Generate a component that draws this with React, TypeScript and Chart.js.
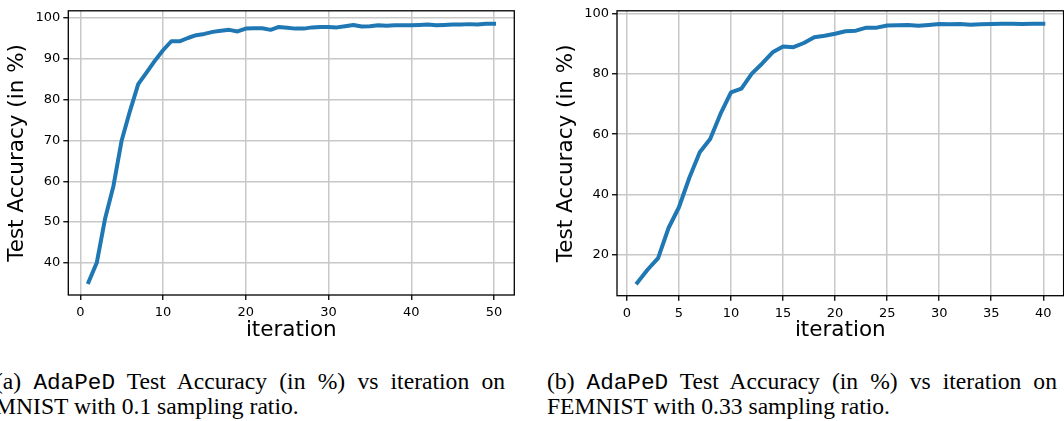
import React, { useEffect, useRef } from "react";
import { Chart, registerables } from "chart.js";

Chart.register(...registerables);

// ---- data (a) MNIST ----
const iterA = [
  1, 2, 3, 4, 5, 6, 7, 8, 9, 10, 11, 12, 13, 14, 15, 16, 17, 18, 19, 20, 21, 22, 23, 24, 25,
  26, 27, 28, 29, 30, 31, 32, 33, 34, 35, 36, 37, 38, 39, 40, 41, 42, 43, 44, 45, 46, 47, 48, 49, 50,
];
const accA = [
  35.3, 40.1, 50.9, 58.8, 70.0, 77.2, 83.8, 86.6, 89.5, 92.1,
  94.3, 94.3, 95.1, 95.8, 96.1, 96.6, 96.9, 97.1, 96.7, 97.4,
  97.5, 97.5, 97.1, 97.8, 97.6, 97.4, 97.4, 97.7, 97.8, 97.8,
  97.7, 98.0, 98.3, 97.9, 98.0, 98.2, 98.1, 98.2, 98.2, 98.2,
  98.3, 98.4, 98.2, 98.3, 98.4, 98.4, 98.5, 98.4, 98.6, 98.6,
];
const xTicksA = [0, 10, 20, 30, 40, 50];
const yTicksA = [40, 50, 60, 70, 80, 90, 100];

// ---- data (b) FEMNIST ----
const iterB = [
  1, 2, 3, 4, 5, 6, 7, 8, 9, 10, 11, 12, 13, 14, 15, 16, 17, 18, 19, 20,
  21, 22, 23, 24, 25, 26, 27, 28, 29, 30, 31, 32, 33, 34, 35, 36, 37, 38, 39, 40,
];
const accB = [
  10.6, 15.0, 18.8, 28.8, 35.7, 45.5, 54.0, 58.4, 66.8, 73.9,
  75.1, 80.1, 83.5, 87.2, 89.1, 88.9, 90.3, 92.2, 92.7, 93.4,
  94.2, 94.4, 95.4, 95.4, 96.1, 96.2, 96.3, 96.0, 96.3, 96.6,
  96.5, 96.6, 96.4, 96.5, 96.6, 96.7, 96.7, 96.6, 96.7, 96.7,
];
const xTicksB = [0, 5, 10, 15, 20, 25, 30, 35, 40];
const yTicksB = [20, 40, 60, 80, 100];

const xTitle = "iteration";
const yTitle = "Test Accuracy (in %)";
const captionA1 = ["(a) ", "AdaPeD", " Test Accuracy (in %) vs iteration on"];
const captionA2 = "MNIST with 0.1 sampling ratio.";
const captionB1 = ["(b) ", "AdaPeD", " Test Accuracy (in %) vs iteration on"];
const captionB2 = "FEMNIST with 0.33 sampling ratio.";

const framePlugin = {
  id: "frame",
  afterDraw(chart: any) {
    const { ctx, chartArea } = chart;
    const { left, top, right, bottom } = chartArea;
    ctx.save();
    ctx.strokeStyle = "#000";
    ctx.lineWidth = 1.3;
    ctx.strokeRect(left, top, right - left, bottom - top);
    ctx.restore();
  },
};

function pad(vals: number[]) {
  const mn = Math.min(...vals);
  const mx = Math.max(...vals);
  const m = (mx - mn) * 0.05;
  return [mn - m, mx + m];
}

type Props = {
  xs: number[];
  ys: number[];
  xTicks: number[];
  yTicks: number[];
  left: number;
  width: number;
  height: number;
  padding: { left: number; top: number; right: number; bottom: number };
  yWidth: number;
  xHeight: number;
  yTitlePad: number;
};

function LineChart(p: Props) {
  const ref = useRef<HTMLCanvasElement | null>(null);
  useEffect(() => {
    if (!ref.current) return;
    const [xMin, xMax] = pad(p.xs);
    const [yMin, yMax] = pad(p.ys);
    const tickFont = { family: "DejaVu Sans", size: 13 };
    const titleFont = { family: "DejaVu Sans", size: 21.5 };
    const grid = {
      color: "#c8c8c8",
      lineWidth: 1.5,
      tickColor: "#000",
      tickWidth: 1.3,
      tickLength: 5,
      drawTicks: true,
    };
    const chart = new Chart(ref.current, {
      type: "line",
      data: {
        datasets: [
          {
            data: p.xs.map((x, i) => ({ x, y: p.ys[i] })),
            borderColor: "#1f77b4",
            borderWidth: 4,
            pointRadius: 0,
            tension: 0,
            borderJoinStyle: "round",
            borderCapStyle: "square",
            fill: false,
          },
        ],
      },
      options: {
        animation: false,
        responsive: false,
        devicePixelRatio: 1,
        layout: { padding: p.padding },
        plugins: { legend: { display: false }, tooltip: { enabled: false } },
        scales: {
          x: {
            type: "linear",
            min: xMin,
            max: xMax,
            grid,
            border: { display: false },
            afterBuildTicks: (s: any) => {
              s.ticks = p.xTicks.map((v) => ({ value: v }));
            },
            afterFit: (s: any) => {
              s.height = p.xHeight;
            },
            ticks: { color: "#000", font: tickFont, padding: 5, maxRotation: 0, autoSkip: false },
            title: {
              display: true,
              text: xTitle,
              color: "#000",
              font: titleFont,
              padding: { top: 0, bottom: 1.5 },
            },
          },
          y: {
            type: "linear",
            min: yMin,
            max: yMax,
            grid,
            border: { display: false },
            afterBuildTicks: (s: any) => {
              s.ticks = p.yTicks.map((v) => ({ value: v }));
            },
            afterFit: (s: any) => {
              s.width = p.yWidth;
            },
            ticks: { color: "#000", font: tickFont, padding: 3, autoSkip: false },
            title: {
              display: true,
              text: yTitle,
              color: "#000",
              font: titleFont,
              padding: { top: p.yTitlePad, bottom: 0 },
            },
          },
        },
      },
      plugins: [framePlugin],
    } as any);
    return () => chart.destroy();
  }, []);
  return (
    <canvas
      ref={ref}
      width={p.width}
      height={p.height}
      style={{ position: "absolute", left: p.left, top: 0, width: p.width, height: p.height }}
    />
  );
}

const SX = 1.04;
const LINE_W = 510;

function Caption({ left, line1, line2 }: { left: number; line1: string[]; line2: string }) {
  const common: React.CSSProperties = {
    position: "absolute",
    left,
    fontFamily: "'Liberation Serif', 'Times New Roman', serif",
    fontSize: 22.7,
    lineHeight: "25px",
    color: "#000",
    transform: `scaleX(${SX})`,
    transformOrigin: "0 0",
    whiteSpace: "nowrap",
  };
  return (
    <>
      <div
        style={{
          ...common,
          top: 369.1,
          width: LINE_W / SX,
          textAlign: "justify",
          textAlignLast: "justify",
        }}
      >
        {line1[0]}
        <span style={{ fontFamily: "'Liberation Mono', monospace", fontSize: 21.8 }}>{line1[1]}</span>
        {line1[2]}
      </div>
      <div style={{ ...common, top: 394.1 }}>{line2}</div>
    </>
  );
}

export default function App() {
  return (
    <div
      style={{
        position: "absolute",
        left: 0,
        top: 0,
        width: 1064,
        height: 421,
        background: "#fff",
        overflow: "hidden",
      }}
    >
      <LineChart
        xs={iterA}
        ys={accA}
        xTicks={xTicksA}
        yTicks={yTicksA}
        left={0}
        width={530}
        height={345}
        padding={{ left: 0, top: 5.3, right: 15.7, bottom: 0 }}
        yWidth={68.3}
        xHeight={50}
        yTitlePad={4.5}
      />
      <LineChart
        xs={iterB}
        ys={accB}
        xTicks={xTicksB}
        yTicks={yTicksB}
        left={530}
        width={534}
        height={345}
        padding={{ left: 22, top: 6, right: 0.4, bottom: 0 }}
        yWidth={65}
        xHeight={49.3}
        yTitlePad={2}
      />
      <Caption left={-5} line1={captionA1} line2={captionA2} />
      <Caption left={547} line1={captionB1} line2={captionB2} />
    </div>
  );
}
